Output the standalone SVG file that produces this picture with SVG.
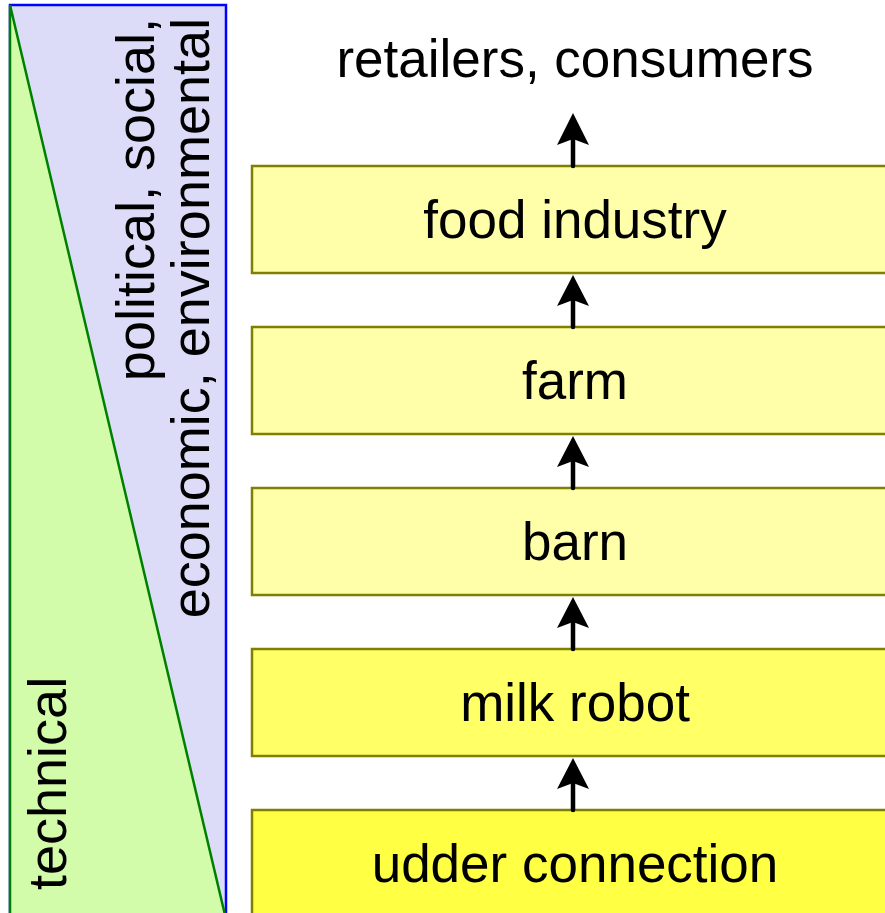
<svg xmlns="http://www.w3.org/2000/svg" width="885" height="913" viewBox="0 0 885 913">
<style>
text{font-family:"Liberation Sans",Arial,sans-serif;font-size:53px;fill:#000}
.lbl{text-anchor:middle}
.vert{font-size:54px}
.box{stroke:#808000;stroke-width:2.5}
.shaft{stroke:#000;stroke-width:4.5;stroke-linecap:round}
.head{fill:#000}
</style>
<rect width="885" height="913" fill="#fff"/>
<g id="side-panel">
<rect x="10" y="5" width="216" height="912" fill="#dcdcf9" stroke="#0000ff" stroke-width="2.5"/>
<polygon points="10,5 10,915 225,915" fill="#d2fcaa" stroke="#008000" stroke-width="2.5"/>
<text class="vert" transform="translate(154,18) rotate(-90)" text-anchor="end">political, social,</text>
<text class="vert" transform="translate(209,18) rotate(-90)" text-anchor="end">economic, environmental</text>
<text class="vert" transform="translate(66,890) rotate(-90)">technical</text>
</g>
<g id="retailers">
<text class="lbl" x="575" y="77">retailers, consumers</text>
</g>
<g id="food-industry">
<rect class="box" x="252" y="166" width="650" height="107" fill="#ffffaa"/>
<text class="lbl" x="575" y="238">food industry</text>
</g>
<g id="farm">
<rect class="box" x="252" y="327" width="650" height="107" fill="#ffffaa"/>
<text class="lbl" x="575" y="399">farm</text>
</g>
<g id="barn">
<rect class="box" x="252" y="488" width="650" height="107" fill="#ffffaa"/>
<text class="lbl" x="575" y="560">barn</text>
</g>
<g id="milk-robot">
<rect class="box" x="252" y="649" width="650" height="107" fill="#ffff66"/>
<text class="lbl" x="575" y="721">milk robot</text>
</g>
<g id="udder-connection">
<rect class="box" x="252" y="810" width="650" height="120" fill="#ffff44"/>
<text class="lbl" x="575" y="882">udder connection</text>
</g>
<g id="connectors">
<line class="shaft" x1="573" y1="166" x2="573" y2="138"/>
<polygon class="head" points="573,113 589,145 573,139 557,145"/>
<line class="shaft" x1="573" y1="327" x2="573" y2="300"/>
<polygon class="head" points="573,275 589,306 573,300 557,306"/>
<line class="shaft" x1="573" y1="488" x2="573" y2="461"/>
<polygon class="head" points="573,436 589,467 573,461 557,467"/>
<line class="shaft" x1="573" y1="649" x2="573" y2="622"/>
<polygon class="head" points="573,597 589,628 573,622 557,628"/>
<line class="shaft" x1="573" y1="810" x2="573" y2="783"/>
<polygon class="head" points="573,758 589,789 573,783 557,789"/>
</g>
</svg>
